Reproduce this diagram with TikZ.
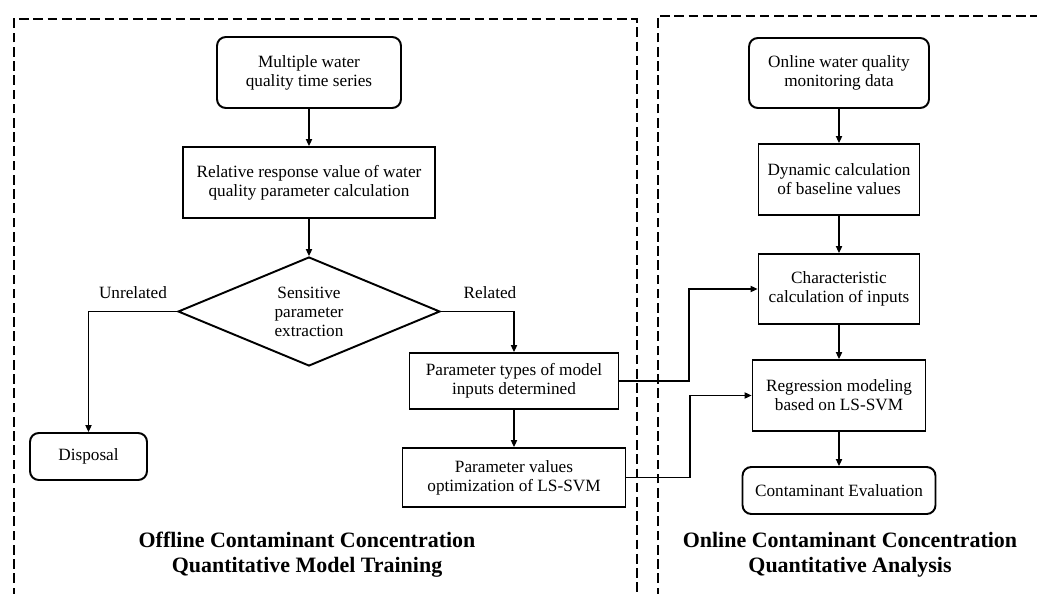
\documentclass[tikz,border=0pt]{standalone}
\usepackage{fontspec}
\setmainfont{Liberation Serif}
\usetikzlibrary{shapes.geometric,arrows.meta}
\begin{document}
\begin{tikzpicture}[x=0.02cm,y=-0.02cm,
  box/.style={draw,line width=1.1pt,align=center,inner sep=2pt,font=\fontsize{9.8}{10.8}\selectfont},
  rbox/.style={box,rounded corners=5pt},
  dec/.style={draw,diamond,line width=1.1pt,align=center,inner sep=0pt,aspect=2.4,font=\fontsize{9.8}{10.8}\selectfont},
  arr/.style={line width=0.6pt,-{Triangle[length=4pt,width=3.6pt]}},
  frame/.style={line width=0.9pt,dash pattern=on 5.5pt off 2.6pt},
  lbl/.style={font=\fontsize{9.8}{10.8}\selectfont},
  ttl/.style={font=\fontsize{12.5}{14.2}\selectfont\bfseries,align=center}]
\useasboundingbox (0,0) rectangle (1037,594);
\clip (0,0) rectangle (1037,594);
% frames
\draw[frame] (14,640) -- (14,19) -- (637,19) -- (637,640);
\draw[frame] (658,640) -- (658,16) -- (1080,16);
% left column
\node[rbox,minimum width=3.68cm,minimum height=1.42cm] (m1) at (309,72.5) {Multiple water\\quality time series};
\node[box,minimum width=5.04cm,minimum height=1.42cm] (m2) at (309,182.5) {Relative response value of water\\quality parameter calculation};
\node[dec,minimum width=5.24cm,minimum height=2.18cm] (d) at (309,311.5) {Sensitive\\parameter\\extraction};
\node[rbox,minimum width=2.34cm,minimum height=0.94cm] (disp) at (88.5,456.5) {Disposal};
\node[box,minimum width=4.18cm,minimum height=1.12cm] (p1) at (514,381) {Parameter types of model\\inputs determined};
\node[box,minimum width=4.46cm,minimum height=1.18cm] (p2) at (514,477.5) {Parameter values\\optimization of LS-SVM};
\node[lbl] (lu) at (133,293) {Unrelated};
\node[lbl] (lr) at (490,293) {Related};
% right column
\node[rbox,minimum width=3.6cm,minimum height=1.4cm] (r1) at (839,73) {Online water quality\\monitoring data};
\node[box,minimum width=3.22cm,minimum height=1.42cm] (r2) at (839,179.5) {Dynamic calculation\\of baseline values};
\node[box,minimum width=3.22cm,minimum height=1.4cm] (r3) at (839,289) {Characteristic\\calculation of inputs};
\node[box,minimum width=3.46cm,minimum height=1.42cm] (r4) at (839,395.5) {Regression modeling\\based on LS-SVM};
\node[rbox,minimum width=3.86cm,minimum height=0.94cm] (r5) at (839,490.5) {Contaminant Evaluation};
% titles
\node[ttl] (t1) at (307,554.5) {Offline Contaminant Concentration\\Quantitative Model Training};
\node[ttl] (t2) at (850,554.5) {Online Contaminant Concentration\\Quantitative Analysis};
% bend points
\coordinate (k1) at (689,0);
\coordinate (k2) at (690,0);
% connectors
\draw[arr] (m1) -- (m2);
\draw[arr] (m2) -- (d);
\draw[arr] (d.west) -| (disp.north);
\draw[arr] (d.east) -| (p1.north);
\draw[arr] (p1) -- (p2);
\draw[arr] (r1) -- (r2);
\draw[arr] (r2) -- (r3);
\draw[arr] (r3) -- (r4);
\draw[arr] (r4) -- (r5);
\draw[arr] (p1.east) -- (p1.east -| k1) |- (r3.west);
\draw[arr] (p2.east) -- (p2.east -| k2) |- (r4.west);
\end{tikzpicture}
\end{document}
